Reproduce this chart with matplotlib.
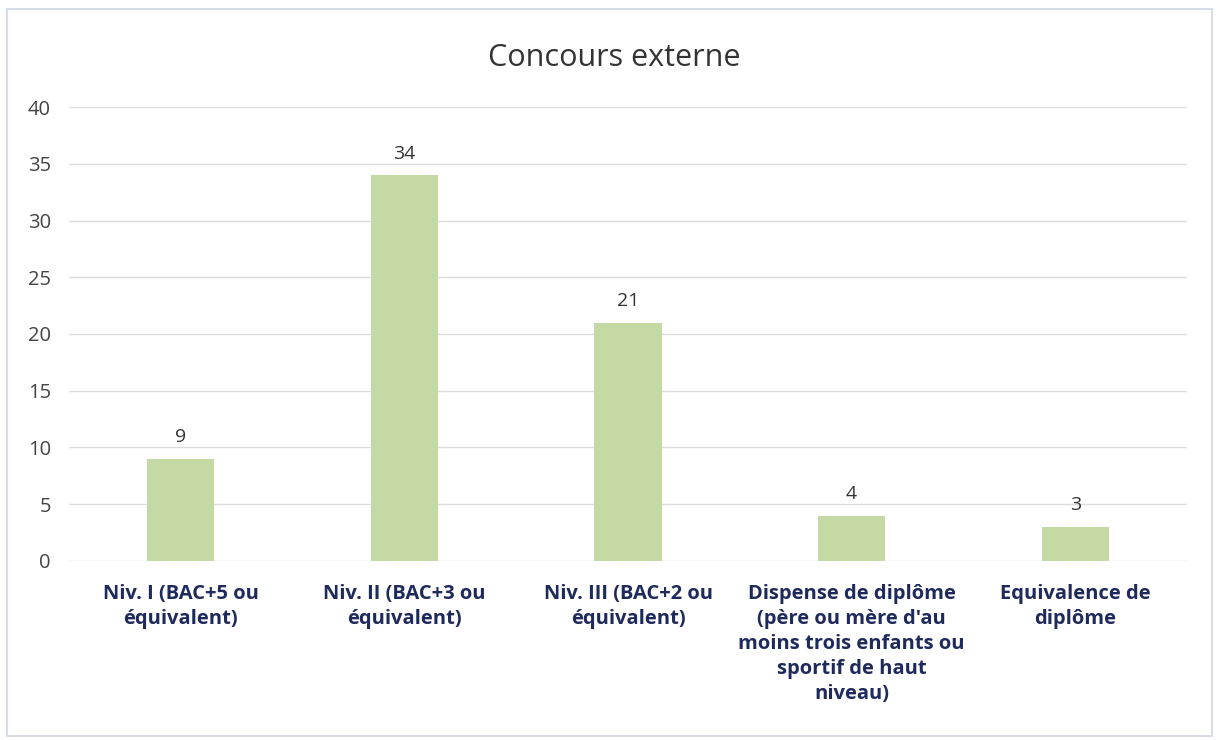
import matplotlib.pyplot as plt
import numpy as np

categories = ["Niv. I (BAC+5 ou\néquivalent)",
              "Niv. II (BAC+3 ou\néquivalent)",
              "Niv. III (BAC+2 ou\néquivalent)",
              "Dispense de diplôme\n(père ou mère d'au\nmoins trois enfants ou\nsportif de haut\nniveau)",
              "Equivalence de\ndiplôme"]
values = [9, 34, 21, 4, 3]
yticks = [0, 5, 10, 15, 20, 25, 30, 35, 40]

plt.rcParams['font.family'] = ['Open Sans', 'DejaVu Sans']

fig = plt.figure(figsize=(12.19, 7.40), dpi=100)
ax = fig.add_axes([0.0566, 0.2419, 0.9172, 0.6135])

x = np.arange(len(categories))
bars = ax.bar(x, values, width=0.30, color='#c5d9a5', zorder=2)

for xi, v in zip(x, values):
    ax.text(xi, v + 1.1, str(v), ha='center', va='bottom', fontsize=14, color='#333333')

ax.set_xlim(-0.5, len(categories) - 0.5)
ax.set_ylim(0, 40)
ax.set_yticks(yticks)
ax.set_yticklabels([str(t) for t in yticks], fontsize=14.5, color='#444444')
ax.set_xticks(x)
ax.set_xticklabels(categories, fontsize=14.5, fontweight='bold', color='#1f2a5c',
                   linespacing=1.34, va='top')
ax.tick_params(axis='both', length=0)
ax.tick_params(axis='x', pad=16.5)
ax.tick_params(axis='y', pad=13)
ax.grid(axis='y', color='#dcdcdc', linewidth=1, zorder=0)
for s in ax.spines.values():
    s.set_visible(False)

fig.text(0.504, 0.921, "Concours externe", ha='center', va='center', fontsize=22, color='#333333')

# outer frame
fig.patches.append(plt.Rectangle((0.006, 0.006), 0.988, 0.982, transform=fig.transFigure,
                                 fill=False, edgecolor='#cfd6e4', linewidth=1.2))

fig.savefig('out.png', dpi=100)
